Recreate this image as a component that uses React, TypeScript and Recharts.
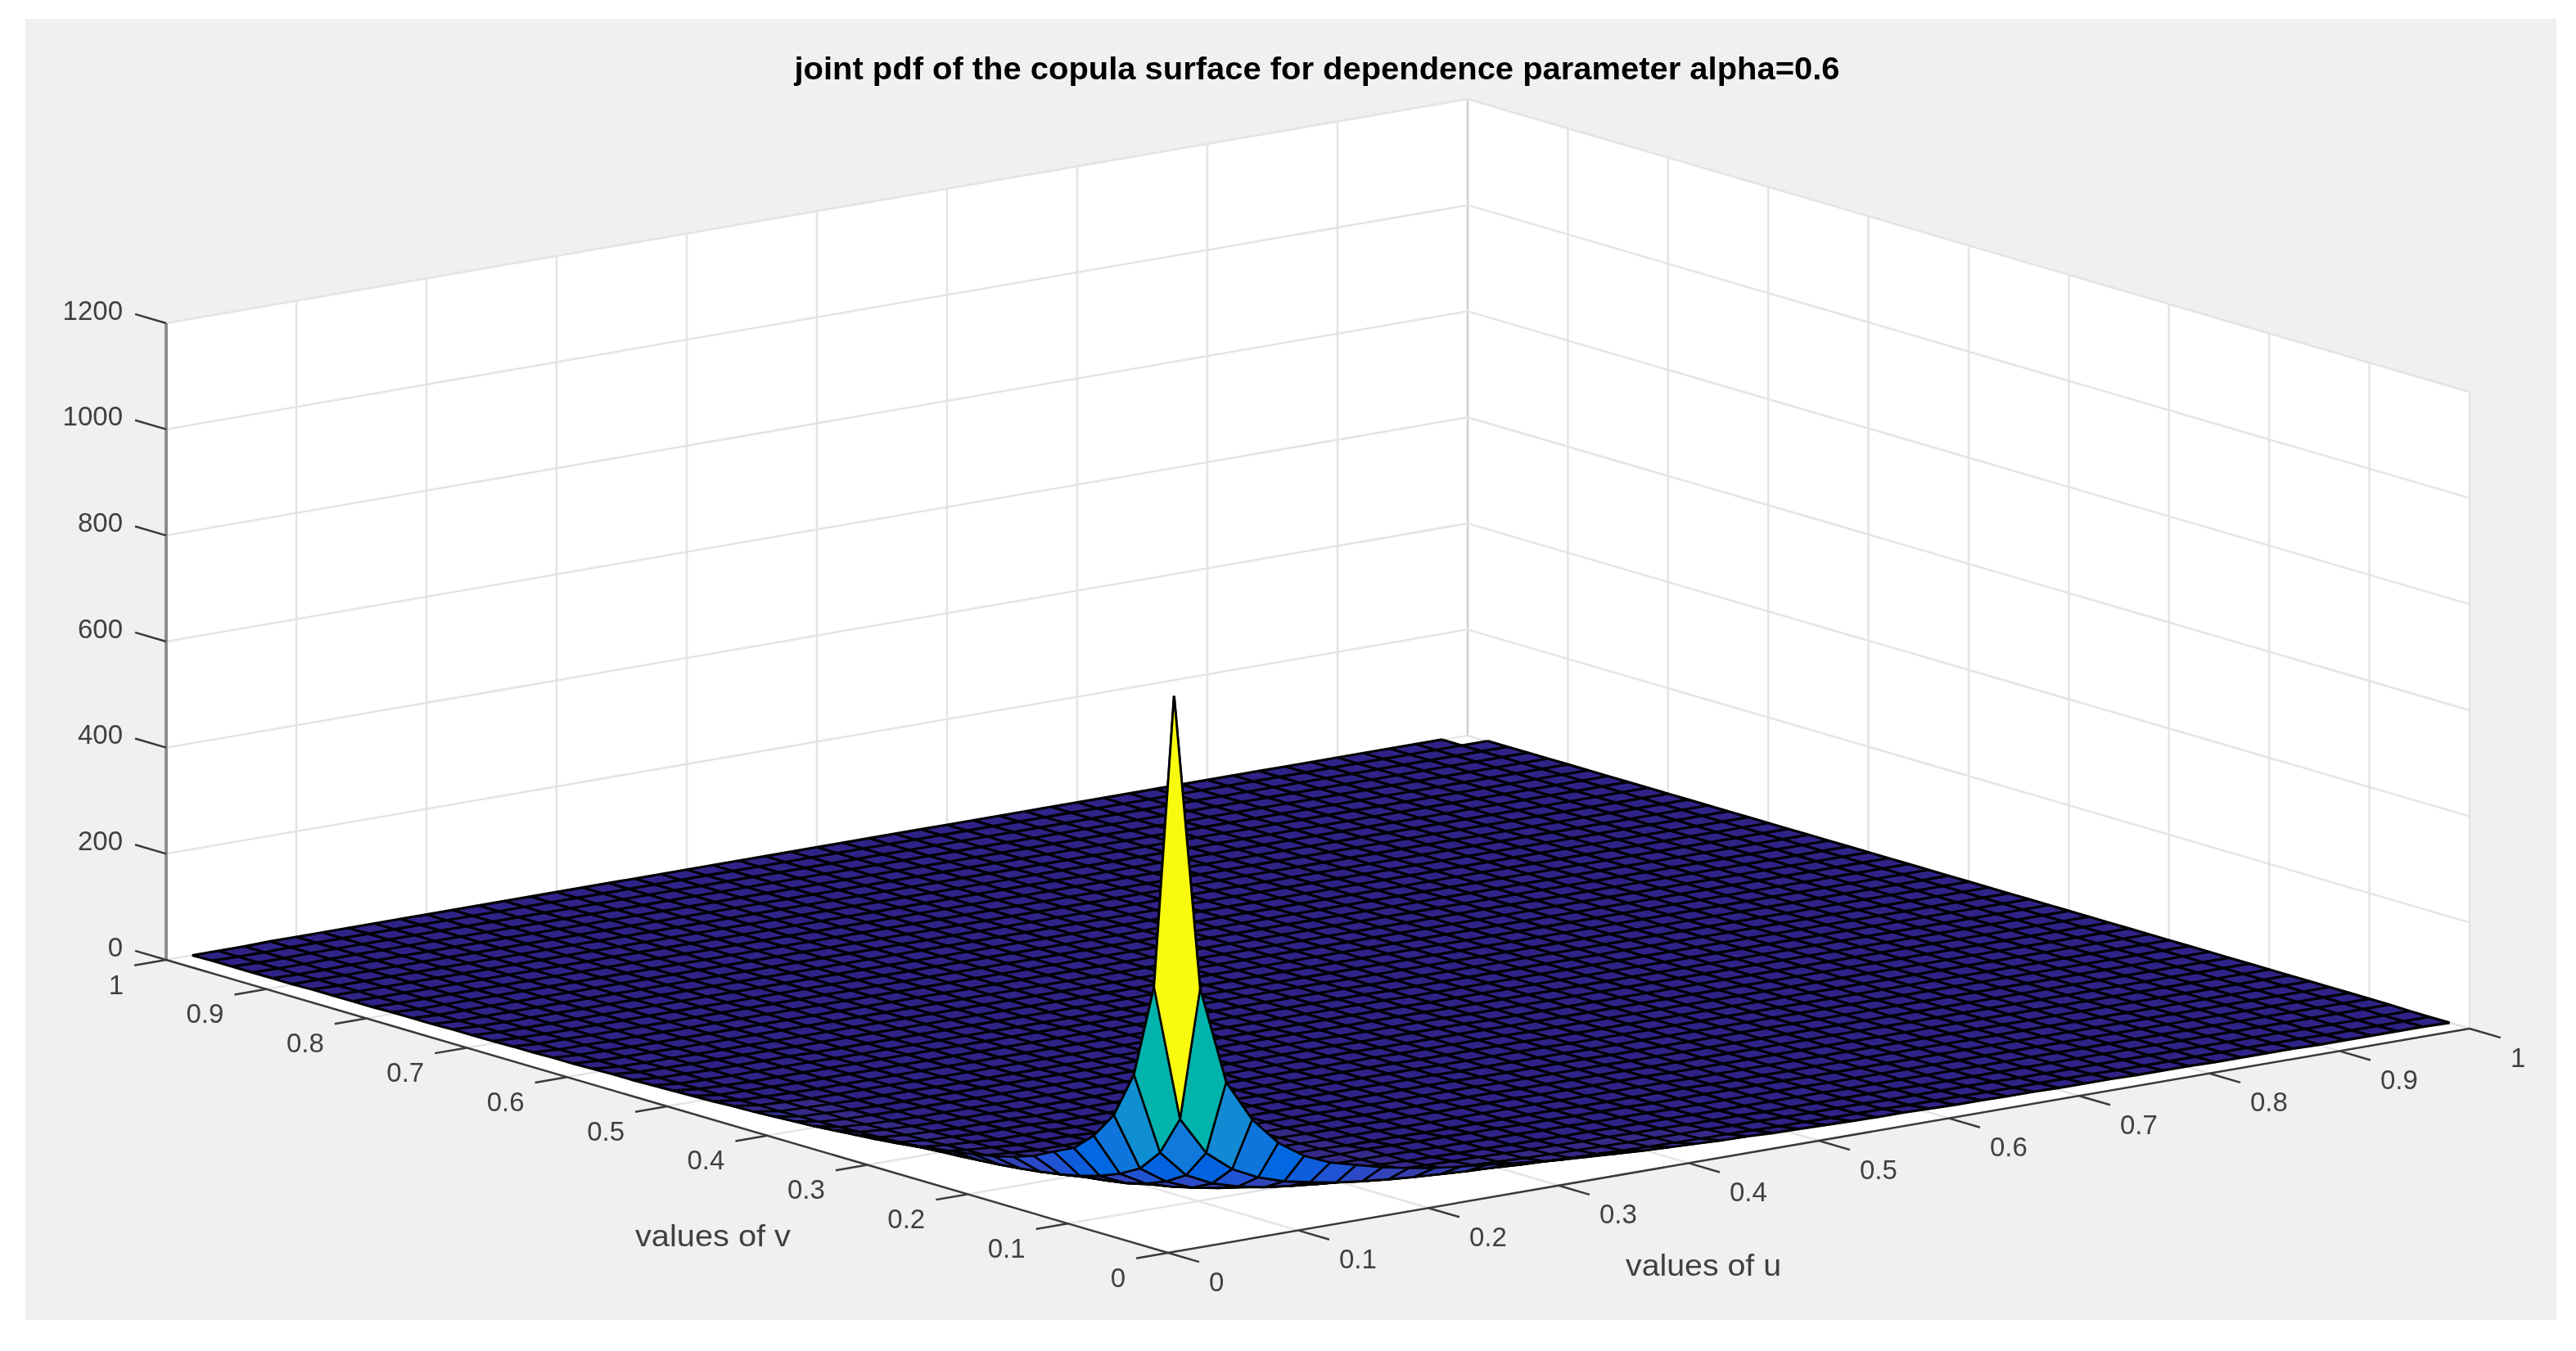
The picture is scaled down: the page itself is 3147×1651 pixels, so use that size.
import React from 'react';
import { ScatterChart, Scatter, XAxis, YAxis } from 'recharts';

const TITLE = 'joint pdf of the copula surface for dependence parameter alpha=0.6';
const U_LABEL = 'values of u';
const V_LABEL = 'values of v';
const AXIS_TICKS = [0, 0.1, 0.2, 0.3, 0.4, 0.5, 0.6, 0.7, 0.8, 0.9, 1];
const AXIS_TICK_TEXT = ['0', '0.1', '0.2', '0.3', '0.4', '0.5', '0.6', '0.7', '0.8', '0.9', '1'];
const Z_TICKS = [0, 200, 400, 600, 800, 1000, 1200];
const MESH = [
  0.02, 0.04, 0.06, 0.08, 0.1, 0.12, 0.14, 0.16, 0.18, 0.2,
  0.22, 0.24, 0.26, 0.28, 0.3, 0.32, 0.34, 0.36, 0.38, 0.4,
  0.42, 0.44, 0.46, 0.48, 0.5, 0.52, 0.54, 0.56, 0.58, 0.6,
  0.62, 0.64, 0.66, 0.68, 0.7, 0.72, 0.74, 0.76, 0.78, 0.8,
  0.82, 0.84, 0.86, 0.88, 0.9, 0.92, 0.94, 0.96, 0.98, 1,
];
// density: row = u index, column = v index, near the (0,0) corner
const Z_NEAR = [
  [1030, 470, 294, 207, 157, 123, 105, 86, 73, 63, 56, 50],
  [470, 213, 139, 98, 77, 62, 51, 43, 37, 32, 28, 25],
  [285, 141, 88, 65, 50, 40, 34, 29, 25, 22, 19, 17],
  [206, 102, 64, 45, 36, 29, 24, 21, 18, 16, 14, 13],
  [154, 78, 50, 36, 27, 22, 19, 16, 14, 12, 11, 10],
  [121, 62, 40, 29, 22, 18, 15, 13, 11, 10, 9, 8],
  [100, 52, 34, 24, 19, 15, 13, 11, 10, 8, 7, 7],
  [87, 43, 29, 21, 16, 13, 11, 9, 8, 7, 6, 6],
  [74, 37, 25, 18, 14, 11, 10, 8, 7, 6, 6, 5],
  [64, 32, 22, 16, 12, 10, 8, 7, 6, 6, 5, 5],
  [56, 28, 19, 14, 11, 9, 7, 6, 6, 5, 5, 4],
  [50, 25, 17, 13, 10, 8, 7, 6, 5, 5, 4, 4],
];
// values further out, for mesh indices 12..49; one list per distance from the outer rows
const Z_EDGE_0 = [45, 40, 34, 30, 27, 24, 21, 19, 17, 15, 14, 12, 11, 10, 9, 8, 8, 7, 6, 6, 5, 5, 4, 4, 4, 3, 3, 3, 2, 2, 2, 2, 1, 1, 1, 1, 1, 0];
const Z_EDGE_1 = [22, 20, 17, 15, 13, 12, 10, 9, 8, 7, 7, 6, 5, 5, 4, 4, 4, 3, 3, 3, 2, 2, 2, 2, 2, 1, 1, 1, 1, 1, 1, 1, 1, 0, 0, 0, 0, 0];
const Z_EDGE_2 = [15, 14, 12, 10, 9, 8, 7, 6, 6, 5, 5, 4, 4, 3, 3, 3, 3, 2, 2, 2, 2, 2, 1, 1, 1, 1, 1, 1, 1, 1, 1, 1, 1, 0, 0, 0, 0, 0];
const Z_EDGE_3 = [11, 10, 9, 8, 7, 6, 5, 5, 4, 4, 3, 3, 3, 2, 2, 2, 2, 2, 2, 1, 1, 1, 1, 1, 1, 1, 1, 1, 1, 1, 1, 1, 1, 1, 1, 1, 1, 1];
const Z_EDGE_4 = [8, 7, 6, 6, 5, 5, 4, 4, 3, 3, 3, 2, 2, 2, 2, 2, 2, 1, 1, 1, 1, 1, 1, 1, 1, 1, 1, 1, 1, 1, 1, 1, 1, 1, 1, 1, 1, 1];
const Z_EDGE_REST = [4, 4, 4, 3, 3, 3, 3, 3, 3, 2, 2, 2, 2, 2, 1, 1, 1, 1, 1, 1, 1, 1, 1, 1, 1, 1, 1, 1, 1, 1, 1, 1, 1, 1, 1, 1, 1, 1];
const PARULA = [
  '#352a87', '#363094', '#3636a0', '#353dad', '#3243ba', '#2c4ac7', '#2053d4', '#0f5cdd',
  '#0363e1', '#0268e1', '#046de0', '#0871de', '#0d75dc', '#1079da', '#127dd8', '#1481d6',
  '#1485d4', '#1389d3', '#108ed2', '#0c93d2', '#0998d1', '#079ccf', '#06a0cd', '#06a4ca',
  '#06a7c6', '#07a9c2', '#0aacbe', '#0faeb9', '#15b1b4', '#00b3ac',
];
const PEAK_COLOR = '#f9fb0e';

const W = 3147;
const H = 1651;
const project = (u: number, v: number, z: number) => ({
  x: 1427 + u * 1590 - v * 1224,
  y: 1531 - u * 274 - v * 358 - (z * 778) / 1200,
});

const zAt = (i: number, j: number) => {
  if (i < 12 && j < 12) return Z_NEAR[i][j];
  const lo = Math.min(i, j);
  const hi = Math.max(i, j) - 12;
  if (lo === 0) return Z_EDGE_0[hi];
  if (lo === 1) return Z_EDGE_1[hi];
  if (lo === 2) return Z_EDGE_2[hi];
  if (lo === 3) return Z_EDGE_3[hi];
  if (lo < 7) return Z_EDGE_4[hi];
  return Z_EDGE_REST[hi];
};
const meshPoint = (i: number, j: number) => project(MESH[i], MESH[j], zAt(i, j));
const colorOf = (z: number) => {
  if (z >= 1000) return PEAK_COLOR;
  return PARULA[Math.floor((z / 1030) * 64)];
};

const NoMark = () => null;
const TextMark = (p: any) => {
  const d = p.payload;
  return (
    <text x={p.cx} y={p.cy} textAnchor={d.anchor} dominantBaseline="central"
      fontFamily="'Liberation Sans'" fontSize={d.size} fontWeight={d.weight} fill={d.color}
      textLength={d.length} lengthAdjust="spacingAndGlyphs">
      {d.text}
    </text>
  );
};

let nextKey = 0;
const path = (pts: { x: number; y: number }[], stroke: string, width: number, fill = 'none') => (
  <Scatter key={nextKey++} data={pts} shape={NoMark} isAnimationActive={false} legendType="none"
    line={{ stroke, strokeWidth: width, fill, strokeLinejoin: 'round', strokeLinecap: 'butt' }} />
);
const closed = (pts: { x: number; y: number }[], stroke: string, width: number, fill: string) =>
  path([...pts, pts[0]], stroke, width, fill);

const GRID = '#e4e4e4';
const AXIS = '#3a3a3a';
const marks: React.ReactNode[] = [];

// walls and floor
marks.push(closed([project(0, 1, 0), project(1, 1, 0), project(1, 1, 1200), project(0, 1, 1200)], GRID, 2, '#ffffff'));
marks.push(closed([project(1, 0, 0), project(1, 1, 0), project(1, 1, 1200), project(1, 0, 1200)], GRID, 2, '#ffffff'));
marks.push(closed([project(0, 0, 0), project(1, 0, 0), project(1, 1, 0), project(0, 1, 0)], GRID, 2, '#ffffff'));

// grid
AXIS_TICKS.slice(1).forEach((t) => {
  marks.push(path([project(t, 1, 0), project(t, 1, 1200)], t === 1 ? '#cfcfcf' : GRID, 2.5));
  marks.push(path([project(t, 0, 0), project(t, 1, 0)], GRID, 2.5));
});
AXIS_TICKS.slice(1, -1).forEach((t) => {
  marks.push(path([project(1, t, 0), project(1, t, 1200)], GRID, 2.5));
  marks.push(path([project(0, t, 0), project(1, t, 0)], GRID, 2.5));
});
marks.push(path([project(1, 0, 0), project(1, 0, 1200)], GRID, 2.5));
Z_TICKS.slice(1).forEach((t) => {
  marks.push(path([project(0, 1, t), project(1, 1, t), project(1, 0, t)], GRID, 2.5));
});

// axes and tick marks
marks.push(path([project(0, 1, 0), project(0, 1, 1200)], '#8e8e8e', 4));
marks.push(path([project(0, 0, 0), project(0, 1, 0)], AXIS, 2.5));
marks.push(path([project(0, 0, 0), project(1, 0, 0)], AXIS, 2.5));
AXIS_TICKS.forEach((t) => {
  marks.push(path([project(0, t, 0), project(-0.0245, t, 0)], AXIS, 2.5));
  marks.push(path([project(t, 0, 0), project(t, -0.031, 0)], AXIS, 2.5));
});
Z_TICKS.forEach((t) => {
  marks.push(path([project(0, 1, t), project(0, 1.031, t)], AXIS, 2.5));
});

// surface body
const last = MESH.length - 1;
const idx = MESH.map((_, i) => i);
const body = [
  ...idx.slice(12).reverse().map((j) => meshPoint(0, j)),
  ...idx.slice(1, 12).map((i) => meshPoint(i, 12)),
  meshPoint(12, 12),
  ...idx.slice(1, 12).reverse().map((j) => meshPoint(12, j)),
  ...idx.slice(12).map((i) => meshPoint(i, 0)),
  ...idx.slice(1, -1).map((j) => meshPoint(last, j)),
  meshPoint(last - 1, last - 1),
  ...idx.slice(1, -1).reverse().map((i) => meshPoint(i, last)),
];
marks.push(closed(body, 'none', 0, '#2f2388'));
idx.forEach((i) => {
  marks.push(path(idx.filter((j) => !(i === last && j === last)).map((j) => meshPoint(i, j)), '#000000', 3.2));
  marks.push(path(idx.filter((j) => !(i === last && j === last)).map((j) => meshPoint(j, i)), '#000000', 3.2));
});

// faces near the peak, drawn from back to front
const cells: [number, number][] = [];
idx.slice(0, 24).forEach((i) => idx.slice(0, 24).forEach((j) => {
  if (Math.max(i, j) < 12 || (Math.min(i, j) < 3 && Math.max(i, j) < 22)) cells.push([i, j]);
}));
cells.sort((a, b) => b[0] + b[1] - a[0] - a[1]);
cells.forEach(([i, j]) => {
  marks.push(closed([meshPoint(i, j), meshPoint(i + 1, j), meshPoint(i + 1, j + 1), meshPoint(i, j + 1)], '#000000', 2.6, colorOf(zAt(i, j))));
});

// texts
const TICK_COLOR = '#404040';
const textRows: any[] = [];
AXIS_TICKS.forEach((t, n) => {
  const a = project(0, t, 0);
  textRows.push({ x: a.x - 52, y: a.y + 30, text: AXIS_TICK_TEXT[n], anchor: 'end', size: 33, color: TICK_COLOR });
  const b = project(t, 0, 0);
  textRows.push({ x: b.x + 50, y: b.y + 35, text: AXIS_TICK_TEXT[n], anchor: 'start', size: 33, color: TICK_COLOR });
});
Z_TICKS.forEach((t) => {
  const a = project(0, 1, t);
  textRows.push({ x: a.x - 53, y: a.y - 16, text: String(t), anchor: 'end', size: 33, color: TICK_COLOR });
});
textRows.push({ x: 871, y: 1510, text: V_LABEL, anchor: 'middle', size: 37, color: TICK_COLOR, length: 190 });
textRows.push({ x: 2081, y: 1546, text: U_LABEL, anchor: 'middle', size: 37, color: TICK_COLOR, length: 190 });
textRows.push({ x: 1609, y: 84, text: TITLE, anchor: 'middle', size: 38, weight: 'bold', color: '#000000', length: 1277 });

export default function App() {
  return (
    <div style={{ position: 'absolute', left: 0, top: 0, width: W, height: H, background: '#ffffff', overflow: 'hidden' }}>
      <div style={{ position: 'absolute', left: 31, top: 23, width: 3092, height: 1590, background: '#f0f0f0' }} />
      <div style={{ position: 'absolute', left: 0, top: 0, filter: 'blur(0.7px)' }}>
        <ScatterChart width={W} height={H} margin={{ top: 0, right: 0, bottom: 0, left: 0 }}>
          <XAxis type="number" dataKey="x" domain={[0, W]} hide allowDataOverflow />
          <YAxis type="number" dataKey="y" domain={[0, H]} reversed hide allowDataOverflow />
          {marks}
          <Scatter data={textRows} shape={TextMark} isAnimationActive={false} legendType="none" />
        </ScatterChart>
      </div>
    </div>
  );
}
